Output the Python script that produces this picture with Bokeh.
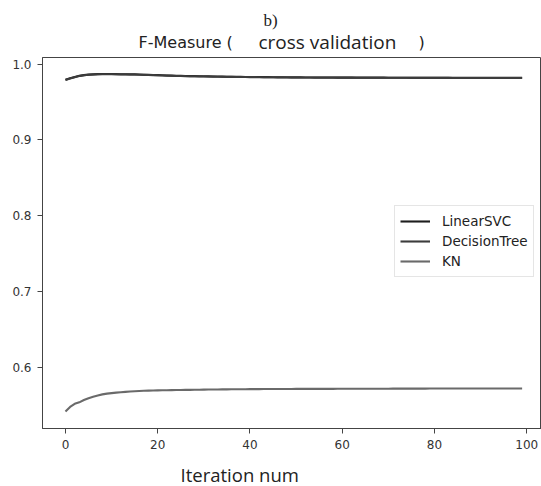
from bokeh.plotting import figure
from bokeh.models import Legend, LegendItem, FixedTicker, Range1d, NumeralTickFormatter
from bokeh.layouts import column
from bokeh.core.properties import value
from bokeh.embed import file_html
from bokeh.resources import INLINE

iterations = list(range(100))

linear_svc = [
    0.9795, 0.9815, 0.9832, 0.9846, 0.9856, 0.9862, 0.9866, 0.9869, 0.9870, 0.9870,
    0.9870, 0.9869, 0.9868, 0.9867, 0.9866, 0.9865, 0.9863, 0.9861, 0.9859, 0.9857,
    0.9855, 0.9853, 0.9851, 0.9849, 0.9847, 0.9846, 0.9844, 0.9843, 0.9842, 0.9841,
    0.9840, 0.9839, 0.9838, 0.9837, 0.9836, 0.9835, 0.9834, 0.9833, 0.9832, 0.9831,
    0.9831, 0.9830, 0.9830, 0.9829, 0.9829, 0.9828, 0.9828, 0.9827, 0.9827, 0.9826,
    0.9826, 0.9826, 0.9825, 0.9825, 0.9825, 0.9824, 0.9824, 0.9824, 0.9824, 0.9823,
    0.9823, 0.9823, 0.9823, 0.9823, 0.9822, 0.9822, 0.9822, 0.9822, 0.9822, 0.9822,
    0.9821, 0.9821, 0.9821, 0.9821, 0.9821, 0.9821, 0.9821, 0.9821, 0.9820, 0.9820,
    0.9820, 0.9820, 0.9820, 0.9820, 0.9820, 0.9820, 0.9820, 0.9820, 0.9820, 0.9820,
    0.9820, 0.9820, 0.9820, 0.9820, 0.9820, 0.9820, 0.9820, 0.9820, 0.9820, 0.9820,
]

decision_tree = [
    0.9790, 0.9810, 0.9828, 0.9843, 0.9853, 0.9860, 0.9864, 0.9867, 0.9868, 0.9868,
    0.9868, 0.9867, 0.9866, 0.9865, 0.9864, 0.9863, 0.9861, 0.9859, 0.9857, 0.9855,
    0.9853, 0.9851, 0.9849, 0.9847, 0.9845, 0.9844, 0.9842, 0.9841, 0.9840, 0.9839,
    0.9838, 0.9837, 0.9836, 0.9835, 0.9834, 0.9833, 0.9832, 0.9831, 0.9830, 0.9830,
    0.9829, 0.9829, 0.9828, 0.9828, 0.9827, 0.9827, 0.9826, 0.9826, 0.9825, 0.9825,
    0.9825, 0.9824, 0.9824, 0.9824, 0.9823, 0.9823, 0.9823, 0.9823, 0.9822, 0.9822,
    0.9822, 0.9822, 0.9822, 0.9821, 0.9821, 0.9821, 0.9821, 0.9821, 0.9821, 0.9820,
    0.9820, 0.9820, 0.9820, 0.9820, 0.9820, 0.9819, 0.9819, 0.9819, 0.9819, 0.9819,
    0.9819, 0.9819, 0.9819, 0.9819, 0.9818, 0.9818, 0.9818, 0.9818, 0.9818, 0.9818,
    0.9818, 0.9818, 0.9818, 0.9818, 0.9818, 0.9818, 0.9818, 0.9818, 0.9818, 0.9818,
]

kn = [
    0.5420, 0.5480, 0.5520, 0.5540, 0.5570, 0.5595, 0.5615, 0.5630, 0.5645, 0.5655,
    0.5662, 0.5668, 0.5673, 0.5678, 0.5683, 0.5687, 0.5690, 0.5693, 0.5695, 0.5697,
    0.5698, 0.5699, 0.5700, 0.5701, 0.5702, 0.5703, 0.5704, 0.5705, 0.5706, 0.5707,
    0.5708, 0.5709, 0.5710, 0.5710, 0.5711, 0.5711, 0.5712, 0.5712, 0.5713, 0.5713,
    0.5714, 0.5714, 0.5714, 0.5715, 0.5715, 0.5715, 0.5716, 0.5716, 0.5716, 0.5716,
    0.5717, 0.5717, 0.5717, 0.5717, 0.5718, 0.5718, 0.5718, 0.5718, 0.5718, 0.5719,
    0.5719, 0.5719, 0.5719, 0.5719, 0.5720, 0.5720, 0.5720, 0.5720, 0.5720, 0.5720,
    0.5720, 0.5721, 0.5721, 0.5721, 0.5721, 0.5721, 0.5721, 0.5721, 0.5721, 0.5722,
    0.5722, 0.5722, 0.5722, 0.5722, 0.5722, 0.5722, 0.5722, 0.5722, 0.5722, 0.5722,
    0.5722, 0.5722, 0.5722, 0.5722, 0.5722, 0.5722, 0.5722, 0.5722, 0.5722, 0.5722,
]

x_ticks = [0, 20, 40, 60, 80, 100]
y_ticks = [0.6, 0.7, 0.8, 0.9, 1.0]
series_names = ["LinearSVC", "DecisionTree", "KN"]
series_colors = ["#1e1e1e", "#3c3c3c", "#6a6a6a"]

W = 541
LEFT = 42
HEADER_H = 57
FOOTER_H = 30
MAIN_H = 486 - HEADER_H - FOOTER_H
FOOTER_TOP = 486 - FOOTER_H


def text_strip(height):
    # frame spans canvas x from LEFT to W (columns align plot frames), so data x == canvas x
    f = figure(width=W, height=height, output_backend="svg", toolbar_location=None,
               x_axis_type=None, y_axis_type=None,
               x_range=Range1d(LEFT, W), y_range=Range1d(height, 0),
               min_border=0, min_border_left=LEFT, min_border_right=0,
               min_border_top=0, min_border_bottom=0)
    f.grid.visible = False
    f.outline_line_color = None
    f.background_fill_color = "white"
    f.border_fill_color = "white"
    return f


def put(f, txt, x, y, font, size, align="left"):
    f.text(x=[x], y=[y], text=[txt], text_font=value(font), text_font_size=value(size),
           text_color="#222222", text_align=align, text_baseline="alphabetic")


header = text_strip(HEADER_H)
put(header, "b)", 270, 20, "Liberation Serif", "17px", align="center")
put(header, "F-Measure (", 138, 42, "DejaVu Sans", "16px")
put(header, "cross validation", 258, 41.5, "Open Sans", "19px")
put(header, ")", 418, 42, "DejaVu Sans", "16px")

footer = text_strip(FOOTER_H)
put(footer, "Iteration num", 180, 474 - FOOTER_TOP, "Open Sans", "18.5px")

p = figure(
    width=W, height=MAIN_H,
    output_backend="svg", toolbar_location=None,
    x_range=Range1d(-4.98, 103.2), y_range=Range1d(0.5195, 1.0088),
    min_border_left=LEFT, min_border_right=0, min_border_top=0,
    min_border_bottom=MAIN_H - 371,
)
p.background_fill_color = "white"
p.border_fill_color = "white"
p.outline_line_color = "#444444"
p.outline_line_width = 1
p.xgrid.visible = False
p.ygrid.visible = False

for ax in (p.xaxis[0], p.yaxis[0]):
    ax.axis_line_color = "#444444"
    ax.major_tick_line_color = "#444444"
    ax.major_tick_out = 5
    ax.major_tick_in = 0
    ax.minor_tick_out = 0
    ax.minor_tick_in = 0
    ax.major_label_text_font = "DejaVu Sans"
    ax.major_label_text_font_size = "12px"
    ax.major_label_text_color = "#333333"
    ax.major_label_standoff = 6

p.xaxis[0].ticker = FixedTicker(ticks=x_ticks)
p.yaxis[0].ticker = FixedTicker(ticks=y_ticks)
p.yaxis[0].formatter = NumeralTickFormatter(format="0.0")

renderers = []
for name, ys, col in zip(series_names, [linear_svc, decision_tree, kn], series_colors):
    r = p.line(iterations, ys, line_color=col, line_width=2.1)
    renderers.append(r)

legend = Legend(
    items=[LegendItem(label=n, renderers=[r]) for n, r in zip(series_names, renderers)],
    location=(352, 151),
    label_text_font="DejaVu Sans", label_text_font_size="13.5px", label_text_color="#222222",
    glyph_width=30, glyph_height=20, label_height=20, label_standoff=12,
    spacing=0, padding=5, margin=0,
    border_line_color="#cccccc", border_line_width=1,
    background_fill_color="white", background_fill_alpha=0.85,
)
p.add_layout(legend, "center")

layout = column(header, p, footer, spacing=0)

open("out.html", "w").write(file_html(layout, INLINE))
